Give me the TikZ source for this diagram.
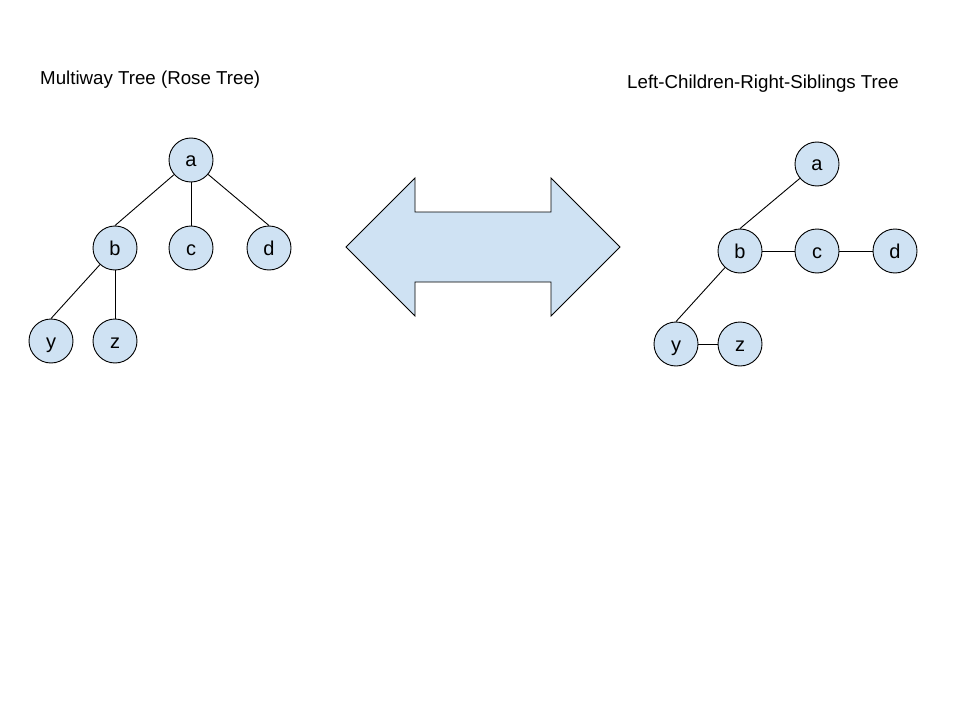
\documentclass[tikz,border=0pt]{standalone}
\usepackage{fontspec}
\setmainfont{Liberation Sans}
\usepackage{tikz}
\usepackage{xcolor}
\definecolor{nodefill}{HTML}{CFE2F3}
\tikzstyle{treenode} = [
    circle,
    draw=black,
    fill=nodefill,
    line width=0.9bp,
    minimum size=44bp,
    inner sep=0pt,
    text height=16bp,
    text depth=2bp,
    font=\fontsize{20bp}{22bp}\selectfont
    ]
\tikzstyle{treetitle} = [
    anchor=base west,
    inner sep=0pt,
    font=\fontsize{18.7bp}{21bp}\selectfont
    ]
\tikzstyle{edge} = [
    draw=black,
    line width=0.9bp
    ]
\begin{document}
\begin{tikzpicture}[x=1bp,y=-1bp]
\useasboundingbox[fill=white] (0,0) rectangle (960,720);
% multiway tree
\node[treetitle] (leftTitle) at (40,85) {Multiway Tree (Rose Tree)};
\node[treenode] (ma) at (191,160) {a};
\node[treenode] (mb) at (115,248) {b};
\node[treenode] (mc) at (191,248) {c};
\node[treenode] (md) at (269,248) {d};
\node[treenode] (my) at (51,341) {y};
\node[treenode] (mz) at (115,341) {z};
\draw[edge] (ma) -- (mb.north);
\draw[edge] (ma) -- (mc.north);
\draw[edge] (ma) -- (md.north);
\draw[edge] (mb) -- (my.north);
\draw[edge] (mb) -- (mz.north);
% double arrow
\coordinate (tipL) at (346,247);
\coordinate (tipR) at (620,247);
\draw[fill=nodefill, line width=0.9bp, line join=miter]
    (tipL) -- (415,178) -- (415,212) -- (551,212) -- (551,178) -- (tipR)
    -- (551,316) -- (551,282) -- (415,282) -- (415,316) -- cycle;
% left-children-right-siblings tree
\node[treetitle] (rightTitle) at (627,89) {Left-Children-Right-Siblings Tree};
\node[treenode] (sa) at (817,164) {a};
\node[treenode] (sb) at (740,251) {b};
\node[treenode] (sc) at (817,251) {c};
\node[treenode] (sd) at (895,251) {d};
\node[treenode] (sy) at (676,344) {y};
\node[treenode] (sz) at (740,344) {z};
\draw[edge] (sa) -- (sb.north);
\draw[edge] (sb) -- (sc);
\draw[edge] (sc) -- (sd);
\draw[edge] (sb) -- (sy.north);
\draw[edge] (sy) -- (sz);
\end{tikzpicture}
\end{document}
